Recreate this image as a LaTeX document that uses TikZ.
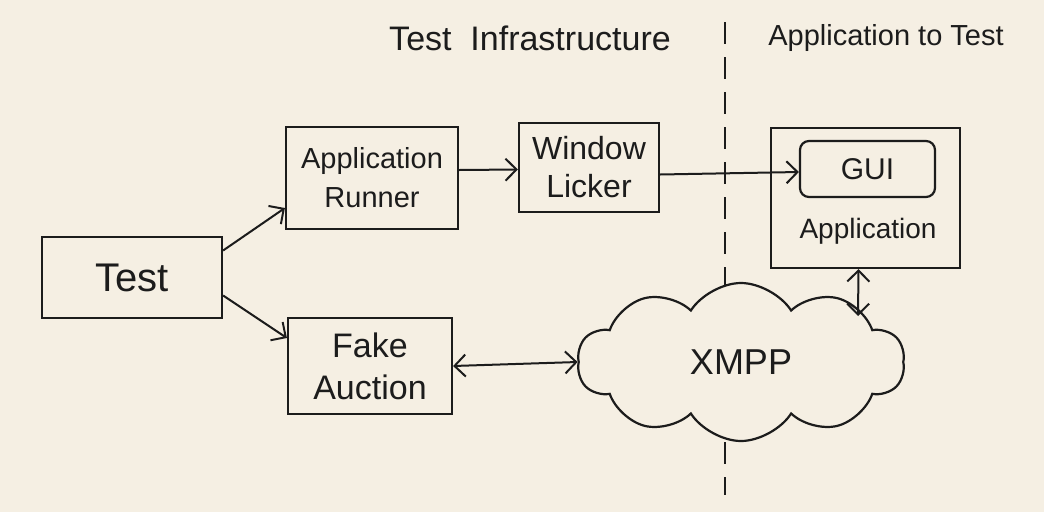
\documentclass[tikz,border=0pt]{standalone}
\usepackage{fontspec}
\setmainfont{Liberation Sans}
\usetikzlibrary{arrows.meta,shapes.symbols}
\definecolor{paper}{HTML}{F5EFE3}
\definecolor{ink}{HTML}{1C1C1C}
\tikzset{
  boxnode/.style={draw=ink, line width=2.2pt, inner sep=0pt, align=center, text=ink},
  lbl/.style={inner sep=0pt, align=center, text=ink},
  barb/.tip={Straight Barb[length=11pt,width=22pt,line width=2pt]},
  conn/.style={draw=ink, line width=2pt, -barb},
  conn2/.style={draw=ink, line width=2pt, barb-barb},
}
\begin{document}
\begin{tikzpicture}[x=1pt,y=-1pt]
\useasboundingbox (0,0) rectangle (1044,512);
\fill[paper] (0,0) rectangle (1044,512);

% titles
\node[lbl, font=\fontsize{34}{36}\selectfont] (t1) at (530,38) {Test\ \ Infrastructure};
\node[lbl, font=\fontsize{29}{30}\selectfont] (t2) at (886,38) {Application to Test};

% dashed separator
\coordinate (dtop) at (725,22);
\coordinate (dbot) at (725,495);
\draw[ink, line width=1.8pt, dash pattern=on 22pt off 13pt] (dtop) -- (dbot);

% boxes
\node[boxnode, minimum width=180pt, minimum height=81pt, font=\fontsize{40}{42}\selectfont] (test) at (132,277.5) {Test};
\node[boxnode, minimum width=172pt, minimum height=102pt, font=\fontsize{29}{39}\selectfont] (runner) at (372,178) {Application\\Runner};
\node[boxnode, minimum width=140pt, minimum height=89pt, font=\fontsize{32}{38}\selectfont] (licker) at (589,167.5) {Window\\Licker};
\node[boxnode, minimum width=164pt, minimum height=96pt, font=\fontsize{34}{42}\selectfont] (fake) at (370,366) {Fake\\Auction};
\node[boxnode, minimum width=189pt, minimum height=140pt] (app) at (865.5,198) {};
\node[boxnode, rounded corners=9pt, minimum width=135pt, minimum height=56pt, font=\fontsize{30}{32}\selectfont] (gui) at (867.5,169) {GUI};
\node[lbl, font=\fontsize{28}{30}\selectfont] (applbl) at (868,231) {Application};

% cloud
\node[cloud, draw=ink, fill=paper, line width=2.2pt, cloud puffs=10, cloud puff arc=115, aspect=2.0,
      minimum width=327pt, minimum height=158pt, inner sep=0pt, text=ink,
      font=\fontsize{36}{38}\selectfont] (xmpp) at (741,362) {XMPP};
\coordinate (cloudtop) at (858,316);

% connectors
\draw[conn] ([yshift=27pt]test.east) -- ([yshift=-30pt]runner.west);
\draw[conn] ([yshift=-18pt]test.east) -- ([yshift=28pt]fake.west);
\draw[conn] ([yshift=8pt]runner.east) -- ([yshift=-2pt]licker.west);
\draw[conn] ([yshift=-7pt]licker.east) -- ([yshift=-3pt]gui.west);
\draw[conn2] (fake.east) -- (xmpp.west);
\draw[conn2] ([xshift=-7pt]app.south) -- (cloudtop);
\end{tikzpicture}
\end{document}
